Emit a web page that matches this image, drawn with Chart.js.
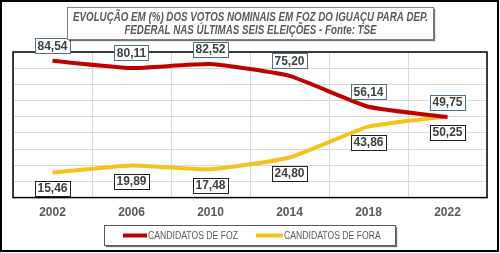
<!DOCTYPE html>
<html>
<head>
<meta charset="utf-8">
<script src="https://cdn.jsdelivr.net/npm/chart.js@4/dist/chart.umd.min.js"></script>
<style>
  html, body { margin: 0; padding: 0; background: #fff; }
  canvas { display: block; }
</style>
</head>
<body>
<canvas id="grafico" width="500" height="253"></canvas>
<script>
// dados
const anos = ['2002', '2006', '2010', '2014', '2018', '2022'];
const candidatosFoz = [84.54, 80.11, 82.52, 75.20, 56.14, 49.75];
const candidatosFora = [15.46, 19.89, 17.48, 24.80, 43.86, 50.25];
const nomesSeries = ['CANDIDATOS DE FOZ', 'CANDIDATOS DE FORA'];
const tituloLinhas = [
    'EVOLUÇÃO EM (%) DOS VOTOS NOMINAIS EM FOZ DO IGUAÇU PARA DEP.',
    'FEDERAL NAS ÚLTIMAS SEIS ELEIÇÕES - Fonte: TSE'
];

const corFoz = '#C00000';
const corFora = '#F7C11E';
const cinza = '#595959';
const familia = '"Liberation Sans", Arial, sans-serif';

function formata(v) {
    return v.toFixed(2).replace('.', ',');
}

// texto comprimido na horizontal (imitando uma fonte estreita)
function textoEstreito(ctx, texto, x, y, escala) {
    ctx.save();
    ctx.translate(x, y);
    ctx.scale(escala, 1);
    ctx.fillText(texto, 0, 0);
    ctx.restore();
}

function caixa(ctx, x, y, w, h, borda, sombra) {
    ctx.save();
    if (sombra) {
        ctx.shadowColor = 'rgba(0,0,0,0.55)';
        ctx.shadowOffsetX = 1.5;
        ctx.shadowOffsetY = 1.5;
        ctx.shadowBlur = 1;
    }
    ctx.fillStyle = '#fff';
    ctx.fillRect(x, y, w, h);
    ctx.restore();
    ctx.strokeStyle = borda;
    ctx.lineWidth = 1;
    ctx.strokeRect(x, y, w, h);
}

const extras = {
    id: 'extras',
    afterDatasetsDraw(chart) {
        const ctx = chart.ctx;
        const area = chart.chartArea;

        // borda da área do gráfico
        ctx.save();
        ctx.strokeStyle = '#000';
        ctx.lineWidth = 1.5;
        ctx.strokeRect(area.left, area.top, area.right - area.left, area.bottom - area.top);
        ctx.restore();

        // rótulos de dados
        ctx.save();
        ctx.font = 'bold 12px ' + familia;
        ctx.textAlign = 'center';
        ctx.textBaseline = 'middle';
        chart.data.datasets.forEach((ds, i) => {
            const meta = chart.getDatasetMeta(i);
            meta.data.forEach((pt, j) => {
                const txt = formata(ds.data[j]);
                const w = ctx.measureText(txt).width + 5;
                const h = 15;
                const cy = i === 0 ? pt.y - 15 : pt.y + 16;
                const bx = Math.round(pt.x - w / 2) + 0.5;
                const by = Math.round(cy - h / 2) + 0.5;
                caixa(ctx, bx, by, Math.round(w), h, i === 0 ? '#4F7385' : '#222', false);
                ctx.fillStyle = '#404040';
                ctx.fillText(txt, pt.x, cy + 0.5);
            });
        });
        ctx.restore();
    },
    afterDraw(chart) {
        const ctx = chart.ctx;
        ctx.save();

        // moldura externa
        ctx.strokeStyle = '#000';
        ctx.lineWidth = 2;
        ctx.strokeRect(1, 1, 497, 250);

        // título
        caixa(ctx, 67.5, 7.5, 366, 32, '#7F7F7F', true);
        ctx.fillStyle = cinza;
        ctx.textAlign = 'center';
        ctx.textBaseline = 'middle';
        ctx.font = 'italic bold 12.5px ' + familia;
        const esc = 355 / ctx.measureText(tituloLinhas[0]).width;
        textoEstreito(ctx, tituloLinhas[0], 250.5, 17.5, esc);
        textoEstreito(ctx, tituloLinhas[1], 250.5, 31, esc);

        // legenda
        caixa(ctx, 104.5, 225.5, 291, 20, '#595959', true);
        const cores = [corFoz, corFora];
        const xs = [[123, 147], [256, 283]];
        ctx.font = '10px ' + familia;
        ctx.textAlign = 'left';
        const escLeg = 90 / ctx.measureText(nomesSeries[0]).width;
        nomesSeries.forEach((nome, i) => {
            ctx.strokeStyle = cores[i];
            ctx.lineWidth = 4;
            ctx.beginPath();
            ctx.moveTo(xs[i][0], 235.5);
            ctx.lineTo(xs[i][1], 235.5);
            ctx.stroke();
            ctx.fillStyle = cinza;
            textoEstreito(ctx, nome, xs[i][1] + 1, 236, escLeg);
        });
        ctx.restore();
    }
};

new Chart(document.getElementById('grafico'), {
    type: 'line',
    data: {
        labels: anos,
        datasets: [
            {
                label: nomesSeries[0],
                data: candidatosFoz,
                borderColor: corFoz,
                borderWidth: 4,
                pointRadius: 0,
                tension: 0.15,
                fill: false
            },
            {
                label: nomesSeries[1],
                data: candidatosFora,
                borderColor: corFora,
                borderWidth: 4,
                pointRadius: 0,
                tension: 0.15,
                fill: false
            }
        ]
    },
    options: {
        responsive: false,
        animation: false,
        layout: {
            padding: { left: 13, right: 13, top: 52, bottom: 25 }
        },
        plugins: {
            legend: { display: false },
            title: { display: false },
            tooltip: { enabled: false }
        },
        scales: {
            x: {
                offset: true,
                grid: { offset: true, color: '#D9D9D9', drawTicks: false },
                border: { display: false },
                ticks: {
                    color: cinza,
                    padding: 8,
                    font: { family: familia, weight: 'bold', size: 12 }
                }
            },
            y: {
                min: 0,
                max: 90,
                ticks: { display: false, stepSize: 10 },
                grid: { color: '#D9D9D9', drawTicks: false },
                border: { display: false }
            }
        }
    },
    plugins: [extras]
});
</script>
</body>
</html>
